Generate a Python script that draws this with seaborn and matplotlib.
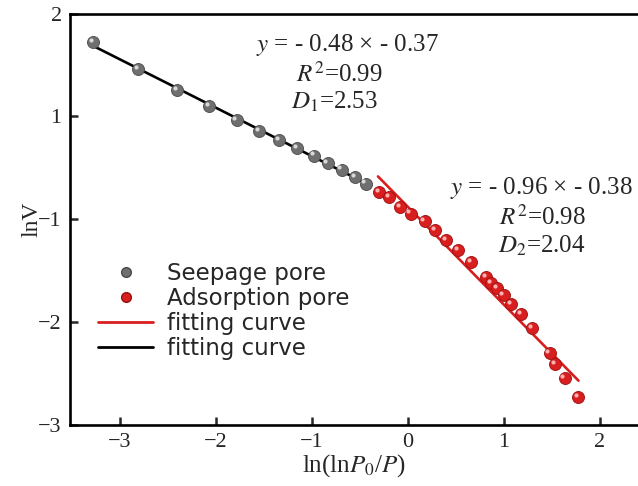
import numpy as np
import matplotlib
matplotlib.use("Agg")
import matplotlib.pyplot as plt
import seaborn as sns
from matplotlib.lines import Line2D
from matplotlib.transforms import offset_copy

# seepage pore points (gray)
seep_x = [-3.278, -2.809, -2.403, -2.070, -1.784, -1.549, -1.341, -1.149,
          -0.979, -0.836, -0.688, -0.552, -0.438]
seep_y = [1.721, 1.463, 1.259, 1.097, 0.961, 0.857, 0.767, 0.689,
          0.618, 0.547, 0.483, 0.411, 0.347]

# adsorption pore points (red)
ads_x = [-0.299, -0.198, -0.083, 0.031, 0.177, 0.289, 0.403, 0.524, 0.664, 0.820,
         0.872, 0.934, 1.000, 1.080, 1.184, 1.295, 1.479, 1.539, 1.635, 1.774]
ads_y = [0.265, 0.217, 0.119, 0.055, -0.019, -0.107, -0.204, -0.301, -0.414, -0.560,
         -0.624, -0.673, -0.738, -0.825, -0.922, -1.061, -1.304, -1.408, -1.547, -1.731]

# red fitting line as drawn in the picture (slope, intercept) and its x span
ads_slope = -0.95
ads_icpt = 0.122
ads_span = [-0.31, 1.78]

xticks = [-3, -2, -1, 0, 1, 2]
yticks = [2, 1, 0, -1, -2]
ytick_labels = ["2", "1", "\u22121", "\u22122", "\u22123"]

eq1 = ["$y$ = - 0.48 \u00d7 - 0.37", "$R^2$=0.99", "$D_1$=2.53"]
eq2 = ["$y$ = - 0.96 \u00d7 - 0.38", "$R^2$=0.98", "$D_2$=2.04"]

sns.set_style("ticks")
plt.rcParams["font.family"] = ["Liberation Serif", "DejaVu Serif"]
plt.rcParams["mathtext.fontset"] = "stix"

fig = plt.figure(figsize=(6.38, 4.86), dpi=100)
ax = fig.add_axes([0.1097, 0.1255, 0.8903, 0.8467])

gray = "#6f6f6f"
red = "#d81e1e"

# black fit through seepage points
sns.regplot(x=seep_x, y=seep_y, scatter=False, ci=None, truncate=True,
            color="black", line_kws=dict(lw=1.9, zorder=2), ax=ax)

# red fitting line
fx = np.array(ads_span)
sns.lineplot(x=fx, y=ads_slope * fx + ads_icpt, color=red, lw=1.9, ax=ax, zorder=2)

sns.scatterplot(x=seep_x, y=seep_y, color=gray, s=75, edgecolor="#4a4a4a",
                linewidth=0.6, ax=ax, zorder=3)
sns.scatterplot(x=ads_x, y=ads_y, color=red, s=75, edgecolor="#9a1010",
                linewidth=0.6, ax=ax, zorder=3)

# little highlights on the balls
hl = offset_copy(ax.transData, fig=fig, x=-1.6, y=1.6, units="points")
ax.scatter(seep_x, seep_y, s=9, color="#d8d8d8", lw=0, transform=hl, zorder=4)
ax.scatter(ads_x, ads_y, s=9, color="#ffb0b0", lw=0, transform=hl, zorder=4)

ax.set_xlim(-3.52, 2.40)
ax.set_ylim(-2, 2)
ax.set_xticks(xticks)
ax.set_xticklabels([str(t).replace("-", "\u2212") for t in xticks])
ax.set_yticks(yticks)
ax.set_yticklabels(ytick_labels)
ax.tick_params(direction="in", length=6, width=1.8, labelsize=16, pad=6)

for s in ["left", "bottom", "top"]:
    ax.spines[s].set_linewidth(1.9)
    ax.spines[s].set_color("black")
ax.spines["right"].set_visible(False)

ax.set_xlabel("ln(ln$\\mathit{P}_0$/$\\mathit{P}$)", fontsize=18, labelpad=0)
ax.set_ylabel("lnV", fontsize=17, labelpad=-3)

for txt, x, y in zip(eq1, [0.4886, 0.474, 0.4665], [0.923, 0.853, 0.785]):
    ax.text(x, y, txt, transform=ax.transAxes, ha="center", va="center", fontsize=18)
for txt, x, y in zip(eq2, [0.830, 0.832, 0.830], [0.576, 0.505, 0.435]):
    ax.text(x, y, txt, transform=ax.transAxes, ha="center", va="center", fontsize=18)

handles = [
    Line2D([], [], ls="", marker="o", ms=7, color=gray, mec="#4a4a4a"),
    Line2D([], [], ls="", marker="o", ms=7, color=red, mec="#9a1010"),
    Line2D([], [], color=red, lw=2),
    Line2D([], [], color="black", lw=2),
]
labels = ["Seepage pore", "Adsorption pore", "fitting curve", "fitting curve"]
ax.legend(handles, labels, loc="upper left", bbox_to_anchor=(0.03, 0.425),
          frameon=False, prop=dict(family="DejaVu Sans", size=16.5),
          handlelength=2.4, handletextpad=0.6, labelspacing=0.1, borderpad=0)

fig.savefig("out.png", dpi=100)
